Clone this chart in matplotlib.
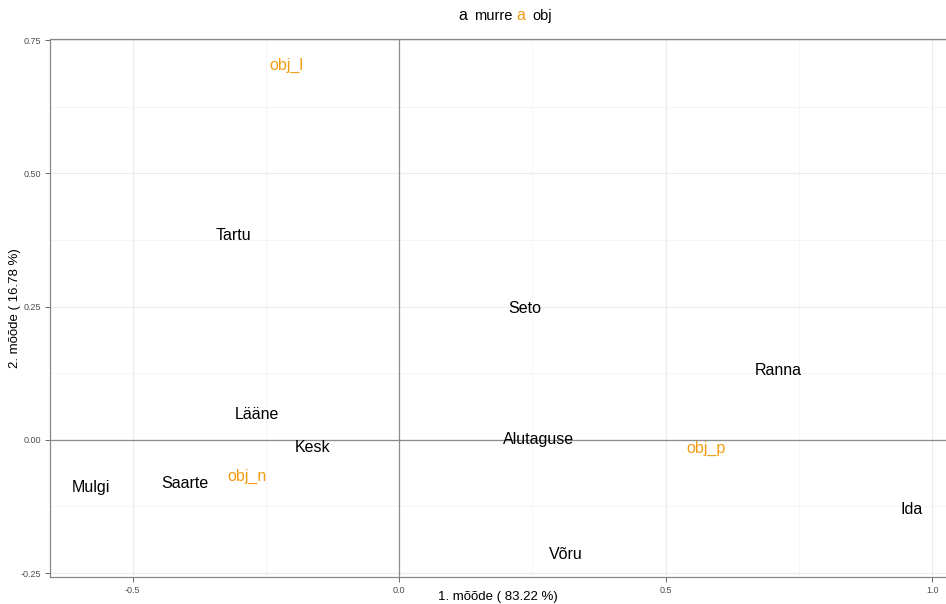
#! /usr/bin/env python3

import matplotlib
matplotlib.use("Agg")
import matplotlib.pyplot as plt
from matplotlib.ticker import MultipleLocator

plt.rcParams["font.family"] = ["Liberation Sans", "DejaVu Sans"]

# Correspondence analysis coordinates
murreNames = ["Tartu", "Seto", "Ranna", "Lääne", "Kesk", "Alutaguse",
              "Mulgi", "Saarte", "Ida", "Võru"]
murreX = [-0.310, 0.235, 0.711, -0.266, -0.163, 0.261, -0.578, -0.401, 0.961, 0.313]
murreY = [0.387, 0.250, 0.133, 0.051, -0.011, 0.004, -0.086, -0.079, -0.128, -0.212]

objNames = ["obj_l", "obj_n", "obj_p"]
objX = [-0.212, -0.285, 0.576]
objY = [0.705, -0.066, -0.013]

xLabel = "1. mõõde ( 83.22 %)"
yLabel = "2. mõõde ( 16.78 %)"

orange = "#f39c12"

fig = plt.figure(figsize=(9.46, 6.04), dpi=100)
ax = fig.add_axes([50 / 946, 1 - 577 / 604, 1 - 50 / 946, (577 - 39) / 604])

ax.set_xlim(-0.655, 1.026)
ax.set_ylim(-0.2575, 0.752)

ax.xaxis.set_major_locator(MultipleLocator(0.5))
ax.xaxis.set_minor_locator(MultipleLocator(0.25))
ax.yaxis.set_major_locator(MultipleLocator(0.25))
ax.yaxis.set_minor_locator(MultipleLocator(0.125))
ax.xaxis.set_major_formatter(plt.FuncFormatter(lambda v, p: "%.1f" % v))
ax.yaxis.set_major_formatter(plt.FuncFormatter(lambda v, p: "%.2f" % v))

ax.grid(which="major", color="#ebebeb", linewidth=0.8)
ax.grid(which="minor", color="#f4f4f4", linewidth=0.6)
ax.set_axisbelow(True)

for side in ["left", "bottom", "top"]:
    ax.spines[side].set_color("#888888")
    ax.spines[side].set_linewidth(0.9)
ax.spines["right"].set_visible(False)

ax.axhline(0, color="#8c8c8c", linewidth=0.9, zorder=1)
ax.axvline(0, color="#8c8c8c", linewidth=0.9, zorder=1)

ax.tick_params(which="major", labelsize=6.5, labelcolor="#4d4d4d", color="#4d4d4d",
               length=3.5, width=0.6, pad=3)
ax.tick_params(which="minor", length=0)

for name, x, y in zip(murreNames, murreX, murreY):
    ax.text(x, y, name, ha="center", va="center_baseline", fontsize=11.5,
            color="black", zorder=3)
for name, x, y in zip(objNames, objX, objY):
    ax.text(x, y, name, ha="center", va="center_baseline", fontsize=11.5,
            color=orange, zorder=3)

# axis titles placed by hand so they stay inside the small margins
fig.text(498 / 946, 1 - 597 / 604, xLabel, fontsize=9.5, ha="center", va="center")
fig.text(15 / 946, 1 - 308 / 604, yLabel, fontsize=9.5, ha="center", va="center",
         rotation=90)

# legend with text keys, like ggplot's geom_text legend
fig.text(463 / 946, 1 - 16 / 604, "a", fontsize=11.5, color="black", ha="center", va="center")
fig.text(474 / 946, 1 - 16 / 604, "murre", fontsize=10.5, color="black", ha="left", va="center")
fig.text(521 / 946, 1 - 16 / 604, "a", fontsize=11.5, color=orange, ha="center", va="center")
fig.text(532 / 946, 1 - 16 / 604, "obj", fontsize=10.5, color="black", ha="left", va="center")

fig.savefig("out.png", dpi=100)
